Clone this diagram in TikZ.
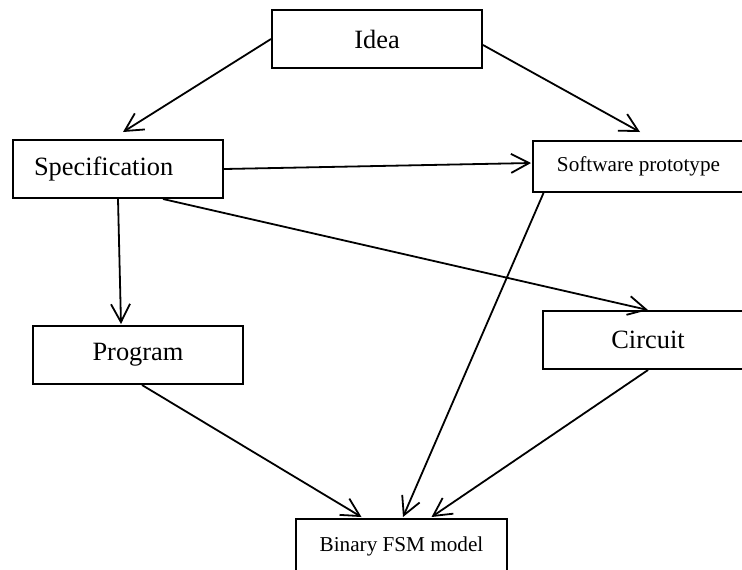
\documentclass[tikz,border=0pt]{standalone}
\usepackage{fontspec}
\setmainfont{Liberation Serif}
\usetikzlibrary{arrows.meta}
\usetikzlibrary{calc}

\begin{document}
\begin{tikzpicture}[x=0.5pt, y=-0.5pt,
    stage/.style={draw, line width=1pt, minimum width=105pt, minimum height=29pt,
        inner sep=0pt, font=\fontsize{13.2pt}{15pt}\selectfont},
    smallstage/.style={stage, minimum width=105.5pt, minimum height=25.5pt,
        font=\fontsize{10.6pt}{12pt}\selectfont},
    flow/.style={line width=0.9pt, -{Straight Barb[length=9pt, width=9.5pt, line width=0.9pt]}}]
    \useasboundingbox (0,0) rectangle (742,569);

    \node[stage] (idea) at (377,39) {Idea};
    \node[stage, text width=84pt, inner xsep=10.5pt, align=left] (spec) at (118,169) {Specification};
    \node[smallstage] (soft) at (638.5,166.5) {Software prototype};
    \node[stage] (prog) at (138,355) {Program};
    \node[stage] (circ) at (648,340) {Circuit};
    \node[smallstage, minimum height=27pt] (fsm) at (401.5,546) {Binary FSM model};

    % from the idea down to the first two stages
    \draw[flow] (idea.west) -- ($(spec.north)+(5,-7)$);
    \draw[flow] ($(idea.east)+(0,6)$) -- ($(soft.north)+(1.5,-8)$);

    \draw[flow] (spec.east) -- ($(soft.west)+(-1,-3.5)$);
    \draw[flow] (spec.south) -- ($(prog.north)+(-17,-1)$);
    \draw[flow] ($(spec.south)+(45,0)$) -- (circ.north);

    % everything ends up in the FSM model
    \draw[flow] ($(soft.south)+(-95,0)$) -- ($(fsm.north)+(1.5,-1)$);
    \draw[flow] ($(prog.south)+(4,0)$) -- ($(fsm.north)+(-40,-1)$);
    \draw[flow] (circ.south) -- ($(fsm.north)+(30,-1)$);
\end{tikzpicture}
\end{document}
